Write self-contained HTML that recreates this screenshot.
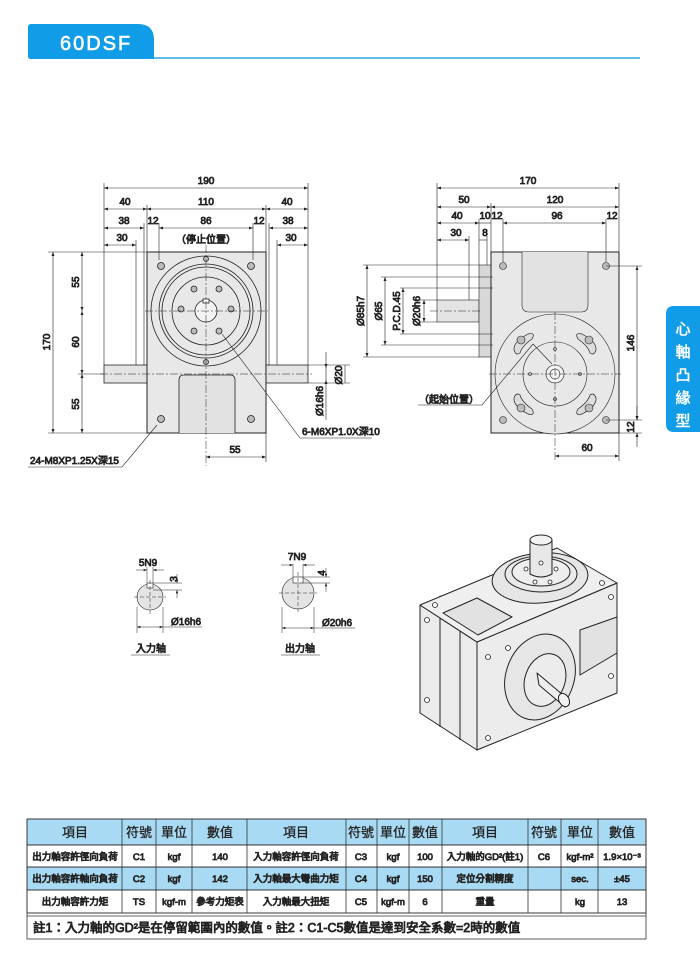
<!DOCTYPE html>
<html><head><meta charset="utf-8">
<style>
html,body{margin:0;padding:0;background:#fff;}
body{width:700px;height:957px;position:relative;overflow:hidden;font-family:"Liberation Sans","Noto Sans CJK TC",sans-serif;}
svg{position:absolute;left:0;top:0;}
text{font-family:"Liberation Sans","Noto Sans CJK TC",sans-serif;font-weight:normal;}
</style></head><body>
<svg width="700" height="957" viewBox="0 0 700 957" xmlns="http://www.w3.org/2000/svg">
<defs>
<marker id="a" viewBox="0 0 8 6" refX="8" refY="3" markerWidth="7" markerHeight="5" orient="auto-start-reverse"><path d="M0,0 L8,3 L0,6 z" fill="#222"/></marker>
</defs>
<!-- header -->
<path d="M31,24 H138 Q154,24 154,40 V59 H31 Q28,59 28,56 V27 Q28,24 31,24 Z" fill="#109ce6"/>
<line x1="154" y1="58" x2="640" y2="58" stroke="#5bbdf0" stroke-width="2"/>
<text x="60" y="50" font-size="20" fill="#fff" letter-spacing="2" stroke="#fff" stroke-width="0.6">60DSF</text>
<!-- side tab -->
<path d="M700,306 V432 H674 Q666,432 666,424 V314 Q666,306 674,306 Z" fill="#109ce6"/>
<g fill="#fff" font-size="15" text-anchor="middle" stroke="#fff" stroke-width="0.5">
<text x="683" y="334">心</text><text x="683" y="357">軸</text><text x="683" y="380">凸</text><text x="683" y="403">緣</text><text x="683" y="426">型</text></g>

<g stroke="#222" stroke-width="0.8" fill="none">
<!-- LEFT VIEW -->
<rect x="104" y="365" width="43" height="18" fill="#e4e4e4"/>
<rect x="266" y="365" width="42" height="18" fill="#e4e4e4"/>
<rect x="147" y="252" width="119" height="181" fill="#e8e8e8" stroke-width="1"/>
<path d="M179,433 V380 Q179,375 184,375 H230 Q235,375 235,380 V433" fill="#e2e2e2"/>
<circle cx="206" cy="311" r="55" fill="#e8e8e8"/>
<circle cx="206" cy="311" r="47"/>
<circle cx="206" cy="311" r="44"/>
<circle cx="206" cy="311" r="34"/>
<circle cx="206" cy="311" r="11" fill="#f4f4f4"/>
<rect x="203" y="299" width="6" height="4" fill="#fff"/>
<g fill="#bbb"><circle cx="231" cy="309" r="3"/><circle cx="181" cy="309" r="3"/><circle cx="194" cy="289" r="3"/><circle cx="219" cy="289" r="3"/><circle cx="194" cy="331" r="3"/><circle cx="219" cy="331" r="3"/>
<circle cx="206" cy="259" r="2.5"/><circle cx="206" cy="362" r="2.5"/>
<circle cx="161" cy="266" r="3.5"/><circle cx="251" cy="266" r="3.5"/><circle cx="161" cy="419" r="3.5"/><circle cx="251" cy="419" r="3.5"/></g>
<g stroke-dasharray="8,2,2,2" stroke-width="0.5">
<line x1="145" y1="311" x2="268" y2="311"/><line x1="206" y1="245" x2="206" y2="466"/>
<line x1="100" y1="374" x2="312" y2="374"/></g>
<!-- left dims -->
<g stroke-width="0.6">
<line x1="104" y1="183" x2="104" y2="365"/><line x1="308" y1="183" x2="308" y2="365"/>
<line x1="147" y1="205" x2="147" y2="252"/><line x1="266" y1="205" x2="266" y2="252"/>
<line x1="144" y1="223" x2="144" y2="365"/><line x1="269" y1="223" x2="269" y2="365"/>
<line x1="159" y1="223" x2="159" y2="260"/><line x1="253" y1="223" x2="253" y2="260"/>
<line x1="136" y1="240" x2="136" y2="365"/><line x1="277" y1="240" x2="277" y2="365"/>
<line x1="104" y1="188" x2="308" y2="188" marker-start="url(#a)" marker-end="url(#a)"/>
<line x1="104" y1="209" x2="147" y2="209" marker-start="url(#a)" marker-end="url(#a)"/>
<line x1="147" y1="209" x2="266" y2="209" marker-start="url(#a)" marker-end="url(#a)"/>
<line x1="266" y1="209" x2="308" y2="209" marker-start="url(#a)" marker-end="url(#a)"/>
<line x1="104" y1="228" x2="144" y2="228" marker-start="url(#a)" marker-end="url(#a)"/>
<line x1="159" y1="228" x2="253" y2="228" marker-start="url(#a)" marker-end="url(#a)"/>
<line x1="269" y1="228" x2="308" y2="228" marker-start="url(#a)" marker-end="url(#a)"/>
<line x1="104" y1="245" x2="136" y2="245" marker-start="url(#a)" marker-end="url(#a)"/>
<line x1="277" y1="245" x2="308" y2="245" marker-start="url(#a)" marker-end="url(#a)"/>
<line x1="48" y1="252" x2="147" y2="252"/><line x1="48" y1="433" x2="147" y2="433"/>
<line x1="78" y1="374" x2="104" y2="374"/>
<line x1="53" y1="252" x2="53" y2="433" marker-start="url(#a)" marker-end="url(#a)"/>
<line x1="82" y1="252" x2="82" y2="311" marker-start="url(#a)" marker-end="url(#a)"/>
<line x1="82" y1="311" x2="82" y2="374" marker-start="url(#a)" marker-end="url(#a)"/>
<line x1="82" y1="374" x2="82" y2="433" marker-start="url(#a)" marker-end="url(#a)"/>
<line x1="308" y1="365" x2="350" y2="365"/><line x1="308" y1="383" x2="350" y2="383"/>
<line x1="345" y1="365" x2="345" y2="383"/>
<line x1="326" y1="368" x2="326" y2="380"/>
<line x1="326" y1="352" x2="326" y2="368" marker-end="url(#a)"/>
<line x1="326" y1="420" x2="326" y2="380" marker-end="url(#a)"/>
<line x1="266" y1="433" x2="266" y2="462"/>
<line x1="206" y1="457" x2="266" y2="457" marker-start="url(#a)" marker-end="url(#a)"/>
<polyline points="222,334 300,438 372,438"/>
<polyline points="157,425 122,467 28,467"/>
<!-- RIGHT VIEW -->
<rect x="437" y="300" width="42" height="22" fill="#e4e4e4"/>
<rect x="479" y="265" width="12" height="92" fill="#d8d8d8"/>
<rect x="491" y="252" width="128" height="181" fill="#e8e8e8" stroke-width="1"/>
<path d="M522,252 V305 Q522,312 529,312 H581 Q588,312 588,305 V252" fill="#e2e2e2"/>
<circle cx="555" cy="374" r="60" fill="#e8e8e8"/>
<circle cx="555" cy="374" r="32"/>
<circle cx="555" cy="374" r="9" fill="#f4f4f4"/><circle cx="555" cy="374" r="5"/>
<g stroke-width="0.7">
<path d="M514,350 Q513,342 528,334 Q536,332 532,339 Q522,346 520,353 Q516,356 514,350Z" fill="#ddd"/>
<path d="M596,350 Q597,342 582,334 Q574,332 578,339 Q588,346 590,353 Q594,356 596,350Z" fill="#ddd"/>
<path d="M514,398 Q513,406 528,414 Q536,416 532,409 Q522,402 520,395 Q516,392 514,398Z" fill="#ddd"/>
<path d="M596,398 Q597,406 582,414 Q574,416 578,409 Q588,402 590,395 Q594,392 596,398Z" fill="#ddd"/>
</g>
<g fill="#bbb"><circle cx="521" cy="340" r="4"/><circle cx="589" cy="340" r="4"/><circle cx="521" cy="408" r="4"/><circle cx="589" cy="408" r="4"/>
<circle cx="503" cy="266" r="3.5"/><circle cx="606" cy="266" r="3.5"/><circle cx="503" cy="420" r="3.5"/><circle cx="606" cy="420" r="3.5"/>
<circle cx="555" cy="349" r="1.5"/><circle cx="555" cy="399" r="1.5"/><circle cx="530" cy="374" r="1.5"/><circle cx="580" cy="374" r="1.5"/></g>
<g stroke-dasharray="8,2,2,2" stroke-width="0.5"><line x1="489" y1="374" x2="621" y2="374"/><line x1="555" y1="312" x2="555" y2="460"/><line x1="430" y1="311" x2="480" y2="311"/></g>
<g stroke-width="0.6">
<line x1="437" y1="183" x2="437" y2="300"/><line x1="619" y1="183" x2="619" y2="252"/>
<line x1="491" y1="203" x2="491" y2="252"/><line x1="479" y1="219" x2="479" y2="265"/>
<line x1="503" y1="219" x2="503" y2="262"/><line x1="606" y1="219" x2="606" y2="262"/>
<line x1="469" y1="236" x2="469" y2="300"/><line x1="487" y1="236" x2="487" y2="265"/>
<line x1="437" y1="188" x2="619" y2="188" marker-start="url(#a)" marker-end="url(#a)"/>
<line x1="437" y1="207" x2="491" y2="207" marker-start="url(#a)" marker-end="url(#a)"/>
<line x1="491" y1="207" x2="619" y2="207" marker-start="url(#a)" marker-end="url(#a)"/>
<line x1="437" y1="223" x2="479" y2="223" marker-start="url(#a)" marker-end="url(#a)"/>
<line x1="479" y1="223" x2="491" y2="223"/>
<line x1="503" y1="223" x2="606" y2="223" marker-start="url(#a)" marker-end="url(#a)"/>
<line x1="437" y1="240" x2="469" y2="240" marker-start="url(#a)" marker-end="url(#a)"/>
<line x1="479" y1="240" x2="487" y2="240"/>
<line x1="363" y1="265" x2="479" y2="265"/><line x1="363" y1="357" x2="479" y2="357"/>
<line x1="381" y1="277" x2="493" y2="277"/><line x1="381" y1="345" x2="493" y2="345"/>
<line x1="400" y1="288" x2="493" y2="288"/><line x1="400" y1="334" x2="493" y2="334"/>
<line x1="420" y1="300" x2="437" y2="300"/><line x1="420" y1="322" x2="437" y2="322"/>
<line x1="367" y1="265" x2="367" y2="357" marker-start="url(#a)" marker-end="url(#a)"/>
<line x1="385" y1="277" x2="385" y2="345" marker-start="url(#a)" marker-end="url(#a)"/>
<line x1="403" y1="288" x2="403" y2="334" marker-start="url(#a)" marker-end="url(#a)"/>
<line x1="424" y1="300" x2="424" y2="322" marker-start="url(#a)" marker-end="url(#a)"/>
<line x1="606" y1="266" x2="642" y2="266"/><line x1="606" y1="420" x2="642" y2="420"/><line x1="619" y1="433" x2="642" y2="433"/>
<line x1="637" y1="266" x2="637" y2="420" marker-start="url(#a)" marker-end="url(#a)"/>
<line x1="637" y1="406" x2="637" y2="420" marker-end="url(#a)"/>
<line x1="637" y1="447" x2="637" y2="433" marker-end="url(#a)"/>
<line x1="619" y1="433" x2="619" y2="461"/>
<line x1="555" y1="456" x2="619" y2="456" marker-start="url(#a)" marker-end="url(#a)"/>
<polyline points="418,405 482,405 533,344 552,364"/>
</g>
<!-- keyway -->
<circle cx="150" cy="597" r="13" fill="#e4e4e4"/>
<rect x="147" y="583" width="6" height="5" fill="#fff"/>
<circle cx="298" cy="593" r="16" fill="#e4e4e4"/>
<rect x="293" y="577" width="10" height="6" fill="#fff"/>
<g stroke-width="0.5">
<line x1="134" y1="597" x2="166" y2="597" stroke-dasharray="4,2"/><line x1="150" y1="580" x2="150" y2="614" stroke-dasharray="4,2"/>
<line x1="279" y1="593" x2="317" y2="593" stroke-dasharray="4,2"/><line x1="298" y1="572" x2="298" y2="614" stroke-dasharray="4,2"/>
<line x1="147" y1="567" x2="147" y2="583"/><line x1="153" y1="567" x2="153" y2="583"/>
<line x1="136" y1="570" x2="147" y2="570" marker-end="url(#a)"/><line x1="164" y1="570" x2="153" y2="570" marker-end="url(#a)"/>
<line x1="153" y1="583" x2="182" y2="583"/><line x1="153" y1="590" x2="182" y2="590"/>
<line x1="177" y1="574" x2="177" y2="583" marker-end="url(#a)"/><line x1="177" y1="598" x2="177" y2="590" marker-end="url(#a)"/>
<line x1="137" y1="607" x2="137" y2="633"/><line x1="163" y1="607" x2="163" y2="633"/>
<line x1="137" y1="627" x2="163" y2="627" marker-start="url(#a)" marker-end="url(#a)"/>
<line x1="163" y1="627" x2="202" y2="627"/>
<line x1="293" y1="564" x2="293" y2="577"/><line x1="303" y1="564" x2="303" y2="577"/>
<line x1="281" y1="565" x2="293" y2="565" marker-end="url(#a)"/><line x1="315" y1="565" x2="303" y2="565" marker-end="url(#a)"/>
<line x1="303" y1="577" x2="330" y2="577"/><line x1="303" y1="583" x2="330" y2="583"/>
<line x1="326" y1="568" x2="326" y2="577" marker-end="url(#a)"/><line x1="326" y1="592" x2="326" y2="583" marker-end="url(#a)"/>
<line x1="282" y1="607" x2="282" y2="633"/><line x1="314" y1="607" x2="314" y2="633"/>
<line x1="282" y1="628" x2="314" y2="628" marker-start="url(#a)" marker-end="url(#a)"/>
<line x1="314" y1="628" x2="355" y2="628"/>
<line x1="131" y1="655" x2="170" y2="655"/><line x1="281" y1="655" x2="320" y2="655"/>
</g>
<!-- iso -->
<g stroke-width="1" stroke-linejoin="round">
<polygon points="420,605 477,642 477,750 420,713" fill="#ebebeb"/>
<polygon points="440,596 477,621 477,642 440,618" fill="#e0e0e0"/>
<polygon points="477,642 617,583 617,693 477,750" fill="#ececec"/>
<polygon points="420,605 557,548 617,583 477,642" fill="#efefef"/>
<line x1="440" y1="618" x2="440" y2="727"/><line x1="460" y1="631" x2="460" y2="740"/>
<polygon points="443,613 477,598 512,617 478,635" fill="#e2e2e2"/>
<polygon points="580,630 617,617 617,653 580,675" fill="#e2e2e2"/>
<ellipse cx="540" cy="578" rx="48" ry="25" fill="#e6e6e6" transform="rotate(-5 540 578)"/>
<ellipse cx="541" cy="574" rx="36" ry="18" fill="#e9e9e9"/>
<ellipse cx="541" cy="572" rx="29" ry="14" fill="#eee"/>
<path d="M530,540 V574 Q541,580 552,574 V540" fill="#e8e8e8"/>
<ellipse cx="541" cy="540" rx="11" ry="5" fill="#f2f2f2"/>
<ellipse cx="540" cy="677" rx="34" ry="44" fill="#e6e6e6" transform="rotate(20 540 677)"/>
<ellipse cx="545" cy="680" rx="20" ry="27" fill="#ececec" transform="rotate(20 545 680)"/>
<path d="M537,673 L563,695 Q570,702 565,707 L539,685 Z" fill="#eee"/>
<ellipse cx="564" cy="700" rx="5" ry="7" fill="#f2f2f2" transform="rotate(-30 564 700)"/>
</g>
<g fill="#fff" stroke-width="0.8">
<circle cx="427" cy="620" r="2.5"/><circle cx="427" cy="700" r="2.5"/><circle cx="435" cy="605" r="2.5"/>
<circle cx="488" cy="657" r="2.5"/><circle cx="488" cy="738" r="2.5"/><circle cx="508" cy="648" r="2.5"/>
<circle cx="602" cy="583" r="2.5"/><circle cx="611" cy="597" r="2.5"/><circle cx="611" cy="676" r="2.5"/>
<circle cx="526" cy="569" r="2"/><circle cx="556" cy="569" r="2"/><circle cx="535" cy="582" r="2"/><circle cx="550" cy="582" r="2"/><circle cx="541" cy="563" r="2"/>
</g>
</g>

<!-- labels -->
<g font-size="10" fill="#222" text-anchor="middle">
<text x="206" y="184">190</text>
<text x="125" y="205">40</text><text x="206" y="205">110</text><text x="287" y="205">40</text>
<text x="124" y="224">38</text><text x="153" y="224">12</text><text x="206" y="224">86</text><text x="259" y="224">12</text><text x="288" y="224">38</text>
<text x="122" y="241">30</text><text x="291" y="241">30</text>
<text x="206" y="243">（停止位置）</text>
<text x="235" y="453">55</text>
<text x="528" y="184">170</text>
<text x="464" y="203">50</text><text x="555" y="203">120</text>
<text x="457" y="219">40</text><text x="485" y="219">10</text><text x="497" y="219">12</text><text x="557" y="219">96</text><text x="612" y="219">12</text>
<text x="456" y="236">30</text><text x="485" y="236">8</text>
<text x="449" y="403">（起始位置）</text>
<text x="587" y="451">60</text>
<text x="148" y="566">5N9</text><text x="297" y="560">7N9</text>
<text x="186" y="625">Ø16h6</text><text x="337" y="626">Ø20h6</text>
<text x="151" y="652">入力轴</text><text x="300" y="652">出力轴</text>
<g transform="rotate(-90)">
<text x="-342" y="50">170</text><text x="-282" y="79">55</text><text x="-342" y="79">60</text><text x="-404" y="79">55</text>
<text x="-375" y="342">Ø20</text><text x="-401" y="323">Ø16h6</text>
<text x="-311" y="364">Ø85h7</text><text x="-311" y="382">Ø65</text><text x="-311" y="400">P.C.D.45</text><text x="-311" y="420">Ø20h6</text>
<text x="-343" y="634">146</text><text x="-427" y="634">12</text>
<text x="-579" y="177">3</text><text x="-573" y="325">4</text>
</g>
</g>
<g font-size="10" fill="#222">
<text x="302" y="435">6-M6XP1.0X深10</text>
<text x="30" y="464">24-M8XP1.25X深15</text>
</g>

<!-- table -->
<g>
<rect x="27" y="819" width="619" height="26" fill="#a9daf3"/>
<rect x="27" y="867" width="619" height="23" fill="#a9daf3"/>
<rect x="27" y="845" width="619" height="22" fill="#fff"/>
<rect x="27" y="890" width="619" height="23" fill="#fff"/>
<g stroke="#333" stroke-width="0.8" fill="none">
<rect x="27" y="819" width="619" height="120"/>
<line x1="27" y1="845" x2="646" y2="845"/><line x1="27" y1="867" x2="646" y2="867"/><line x1="27" y1="890" x2="646" y2="890"/>
<line x1="27" y1="913" x2="646" y2="913"/><line x1="27" y1="916" x2="646" y2="916"/>
<path d="M122,819V913M156,819V913M192,819V913M247,819V913M346,819V913M377,819V913M409,819V913M442,819V913M528,819V913M561,819V913M598,819V913"/>
</g>
<g font-size="13" fill="#222" text-anchor="middle" stroke="#222" stroke-width="0.3">
<text x="75" y="837">項目</text><text x="139" y="837">符號</text><text x="174" y="837">單位</text><text x="220" y="837">數值</text>
<text x="296" y="837">項目</text><text x="361" y="837">符號</text><text x="393" y="837">單位</text><text x="425" y="837">數值</text>
<text x="485" y="837">項目</text><text x="544" y="837">符號</text><text x="580" y="837">單位</text><text x="622" y="837">數值</text>
</g>
<g font-size="9.5" fill="#222" text-anchor="middle">
<text x="75" y="860">出力軸容許徑向負荷</text><text x="139" y="860">C1</text><text x="174" y="860">kgf</text><text x="220" y="860">140</text>
<text x="296" y="860">入力軸容許徑向負荷</text><text x="361" y="860">C3</text><text x="393" y="860">kgf</text><text x="425" y="860">100</text>
<text x="485" y="860">入力軸的GD²(註1)</text><text x="544" y="860">C6</text><text x="580" y="860">kgf-m²</text><text x="622" y="860">1.9×10⁻³</text>
<text x="75" y="882">出力軸容許軸向負荷</text><text x="139" y="882">C2</text><text x="174" y="882">kgf</text><text x="220" y="882">142</text>
<text x="296" y="882">入力軸最大彎曲力矩</text><text x="361" y="882">C4</text><text x="393" y="882">kgf</text><text x="425" y="882">150</text>
<text x="485" y="882">定位分割精度</text><text x="580" y="882">sec.</text><text x="622" y="882">±45</text>
<text x="75" y="905">出力軸容許力矩</text><text x="139" y="905">TS</text><text x="174" y="905">kgf-m</text><text x="220" y="905">參考力矩表</text>
<text x="296" y="905">入力軸最大扭矩</text><text x="361" y="905">C5</text><text x="393" y="905">kgf-m</text><text x="425" y="905">6</text>
<text x="485" y="905">重量</text><text x="580" y="905">kg</text><text x="622" y="905">13</text>
</g>
<text x="33" y="932" font-size="12.5" fill="#222">註1：入力軸的GD²是在停留範圍內的數值。註2：C1-C5數值是達到安全系數=2時的數值</text>
</g>
</svg>
</body></html>
